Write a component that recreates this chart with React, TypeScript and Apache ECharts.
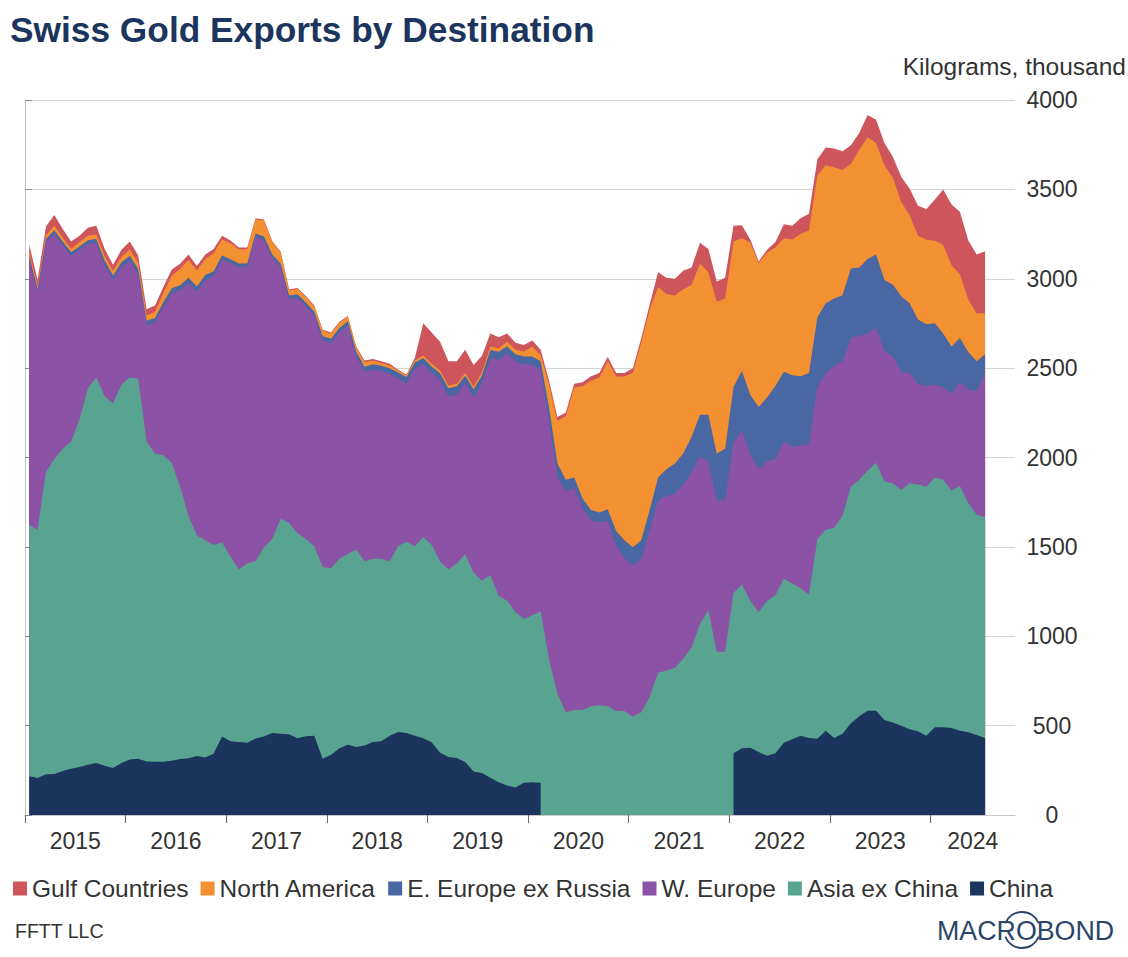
import React, { useEffect, useRef } from "react";
import * as echarts from "echarts";

// ---- Data (thousand kg), monthly Jan 2015 .. Jul 2024 ----
const START_YEAR = 2015;
const N_MONTHS = 115;
const months: string[] = [];
for (let i = 0; i < N_MONTHS; i++) {
  const y = START_YEAR + Math.floor(i / 12);
  const m = (i % 12) + 1;
  months.push(`${y}-${m < 10 ? "0" + m : m}`);
}

const years = ["2015", "2016", "2017", "2018", "2019", "2020", "2021", "2022", "2023", "2024"];
const yTicks = [0, 500, 1000, 1500, 2000, 2500, 3000, 3500, 4000];

const china: (number | null)[] = [
  217, 207, 228, 230, 246, 259, 269, 281, 291, 276,
  263, 291, 311, 315, 300, 298, 298, 304, 313, 317,
  330, 322, 343, 439, 413, 409, 404, 428, 439, 459,
  454, 452, 430, 441, 443, 315, 337, 374, 393, 380,
  389, 409, 413, 444, 465, 459, 444, 430, 407, 348,
  324, 319, 296, 244, 235, 209, 183, 165, 154, 181,
  183, 180,
  null, null, null, null, null, null, null, null, null, null, null,
  null, null, null, null, null, null, null, null, null, null, null,
  346, 374, 376, 352, 331, 346, 404, 424, 444, 431,
  426, 472, 431, 454, 513, 552, 583, 583, 531, 517,
  500, 480, 469, 443, 491, 491, 487, 472, 463, 448,
  431,
];

const asiaExChina: number[] = [
  1405, 1389, 1691, 1762, 1803, 1831, 1944, 2108, 2156, 2067,
  2041, 2117, 2136, 2126, 1790, 1725, 1714, 1667, 1523, 1357,
  1233, 1215, 1168, 1085, 1033, 964, 1003, 992, 1059, 1086,
  1205, 1181, 1146, 1103, 1060, 1073, 1044, 1059, 1066, 1105,
  1031, 1024, 1020, 976, 1040, 1070, 1059, 1125, 1104, 1072,
  1049, 1088, 1163, 1111, 1075, 1133, 1042, 1034, 980, 916,
  935, 959,
  870, 679, 575, 588, 588, 608, 614, 608, 582, 582, 549,
  575, 660, 796, 809, 822, 874, 939, 1069, 1147, 913, 913,
  897, 916, 823, 782, 868, 884, 917, 871, 825, 801,
  1118, 1124, 1176, 1220, 1323, 1323, 1344, 1388, 1336, 1339,
  1318, 1376, 1380, 1393, 1397, 1384, 1328, 1369, 1282, 1232,
  1236,
];

const wEurope: number[] = [
  1486, 1327, 1283, 1260, 1140, 1038, 947, 807, 750, 734,
  689, 659, 651, 584, 650, 732, 832, 946, 1098, 1302,
  1363, 1454, 1506, 1581, 1643, 1692, 1658, 1813, 1718, 1570,
  1405, 1253, 1317, 1303, 1287, 1266, 1258, 1266, 1278, 1081,
  1058, 1058, 1050, 1050, 936, 886, 994, 966, 963, 1012,
  970, 946, 959, 982, 1104, 1214, 1321, 1383, 1404, 1423,
  1402, 1352,
  1330, 1214, 1235, 1243, 1126, 1041, 1022, 1038, 924, 856, 845,
  858, 930, 962, 975, 975, 975, 975, 936, 832, 845, 850,
  840, 858, 819, 800, 780, 762, 769, 762, 801, 843,
  851, 877, 905, 864, 832, 806, 767, 754, 728, 708,
  660, 617, 564, 566, 520, 520, 541, 580, 637, 689,
  803,
];

const eEuropeExRussia: number[] = [
  20, 20, 20, 20, 20, 20, 20, 20, 25, 25,
  25, 25, 30, 30, 25, 25, 25, 30, 30, 30,
  30, 30, 25, 25, 20, 20, 20, 20, 20, 20,
  20, 20, 20, 20, 25, 25, 25, 25, 25, 25,
  30, 30, 30, 30, 35, 35, 35, 35, 35, 40,
  45, 45, 40, 45, 45, 45, 45, 40, 40, 45,
  45, 47,
  78, 73, 65, 57, 57, 57, 57, 65, 83, 99, 104,
  104, 116, 130, 150, 169, 174, 202, 234, 260, 265, 286,
  312, 338, 332, 349, 356, 408, 390, 403, 384, 398,
  390, 390, 377, 369, 390, 382, 416, 411, 398, 403,
  424, 390, 359, 344, 343, 299, 265, 247, 208, 169,
  107,
];

const northAmerica: number[] = [
  20, 15, 20, 25, 20, 20, 25, 25, 25, 25,
  25, 30, 35, 35, 30, 35, 50, 70, 90, 100,
  90, 90, 100, 90, 90, 80, 80, 80, 90, 70,
  60, 30, 30, 30, 30, 30, 30, 30, 25, 25,
  25, 20, 15, 15, 10, 10, 10, 15, 15, 15,
  15, 15, 15, 15, 15, 20, 20, 25, 25, 28,
  55, 35,
  127, 240, 357, 503, 628, 723, 755, 828, 864, 916, 976,
  1106, 1119, 1066, 981, 940, 918, 851, 845, 798, 848, 840,
  814, 740, 851, 804, 812, 775, 747, 759, 798, 797,
  793, 772, 735, 702, 585, 659, 681, 624, 642, 598,
  528, 494, 468, 472, 462, 496, 455, 357, 294, 268,
  232,
];

const gulfCountries: number[] = [
  45, 35, 50, 60, 50, 40, 35, 45, 50, 40,
  35, 40, 45, 40, 35, 35, 35, 35, 30, 30,
  25, 25, 25, 20, 15, 10, 10, 5, 5, 5,
  5, 5, 5, 5, 5, 5, 5, 5, 5, 5,
  10, 10, 10, 10, 5, 5, 16, 180, 175, 160,
  135, 125, 130, 120, 95, 73, 62, 47, 39, 37,
  35, 30,
  25, 20, 20, 22, 22, 25, 25, 25, 20, 20, 25,
  25, 30, 83, 91, 94, 104, 96, 117, 130, 114, 117,
  88, 73, 18, 10, 15, 30, 78, 78, 86, 94,
  91, 99, 104, 104, 104, 95, 125, 130, 125, 117,
  140, 148, 169, 172, 229, 310, 340, 350, 330, 330,
  345,
];

const seriesNames = [
  "Gulf Countries",
  "North America",
  "E. Europe ex Russia",
  "W. Europe",
  "Asia ex China",
  "China",
];
const seriesColors: Record<string, string> = {
  "Gulf Countries": "#cf555d",
  "North America": "#f39031",
  "E. Europe ex Russia": "#4867a3",
  "W. Europe": "#8b52a6",
  "Asia ex China": "#59a391",
  "China": "#1c355e",
};

const X_MAX = 118.07; // months from Jan 2015 to right edge of axis
const FONT = "'Liberation Sans', Arial, Helvetica, sans-serif";

export default function App() {
  const ref = useRef<HTMLDivElement>(null);

  useEffect(() => {
    if (!ref.current) return;
    const chart = echarts.init(ref.current, undefined, { renderer: "svg" });

    // Stack the layers (bottom to top): China, Asia ex China, W. Europe, E. Europe, N. America, Gulf.
    // Each layer is drawn from the baseline at its cumulative height, top layer first,
    // so the layers beneath paint over it (equivalent to a stacked area chart).
    const layersBottomUp: number[][] = [
      china.map((v) => v ?? 0),
      asiaExChina,
      wEurope,
      eEuropeExRussia,
      northAmerica,
      gulfCountries,
    ];
    const cum: number[][] = [];
    layersBottomUp.forEach((arr, k) => {
      cum.push(arr.map((v, i) => v + (k > 0 ? cum[k - 1][i] : 0)));
    });

    const xy = (arr: (number | null)[]) =>
      arr.map((v, i) => [i + 0.5, v == null ? null : v]);

    const areaSeries = (name: string, data: any[], z: number) => ({
      name,
      type: "line",
      data,
      color: seriesColors[name],
      symbol: "none",
      showSymbol: false,
      lineStyle: { width: 0 },
      areaStyle: { color: seriesColors[name], opacity: 1 },
      connectNulls: false,
      z,
      emphasis: { disabled: true },
    });

    const tickVals = years.map((_, i) => i * 12);
    const labelVals = years.map((_, i) => (i < years.length - 1 ? i * 12 + 6 : (i * 12 + X_MAX) / 2));

    chart.setOption({
      animation: false,
      textStyle: { fontFamily: FONT },
      title: {
        text: "Swiss Gold Exports by Destination",
        left: 10,
        top: 12,
        padding: 0,
        textStyle: { fontSize: 35.3, fontWeight: "bold", color: "#1c355e", fontFamily: FONT },
      },
      legend: {
        data: seriesNames,
        left: 13,
        top: 876,
        icon: "rect",
        itemWidth: 14,
        itemHeight: 14,
        itemGap: 12,
        padding: 0,
        textStyle: { fontSize: 24.5, color: "#333", fontFamily: FONT },
      },
      grid: { left: 25, right: 113, top: 100, bottom: 142, containLabel: false },
      xAxis: {
        type: "value",
        min: 0,
        max: X_MAX,
        axisLine: { show: true, lineStyle: { color: "#c8c8c8", width: 1 } },
        axisTick: {
          show: true,
          customValues: tickVals,
          length: 8,
          lineStyle: { color: "#666" },
        },
        axisLabel: {
          customValues: labelVals,
          formatter: (v: number) => years[Math.min(years.length - 1, Math.floor(v / 12))],
          fontSize: 23,
          color: "#333",
          margin: 14,
          fontFamily: FONT,
        },
        splitLine: { show: false },
      },
      yAxis: {
        type: "value",
        position: "right",
        min: 0,
        max: 4000,
        interval: 500,
        axisLine: { show: true, lineStyle: { color: "#c8c8c8" } },
        axisTick: { show: true, length: 7, lineStyle: { color: "#888" } },
        axisLabel: {
          fontSize: 23,
          color: "#333",
          align: "center",
          margin: 37,
          fontFamily: FONT,
          formatter: (v: number) => (yTicks.includes(v) ? String(v) : ""),
        },
        splitLine: { show: true, lineStyle: { color: "#d3d3d3", width: 1 } },
      },
      graphic: [
        {
          type: "text",
          right: 2,
          top: 54,
          style: { text: "Kilograms, thousand", fontSize: 24.5, fill: "#333", fontFamily: FONT },
        },
        {
          type: "text",
          left: 15,
          top: 921,
          style: { text: "FFTT LLC", fontSize: 19.5, fill: "#333", fontFamily: FONT },
        },
        {
          type: "text",
          left: 937,
          top: 917,
          style: { text: "MACROBOND", fontSize: 26.8, fill: "#2a4569", fontFamily: FONT },
        },
        {
          type: "arc",
          shape: { cx: 1022, cy: 930, r: 18, startAngle: Math.PI * 1.12, endAngle: Math.PI * 1.88 },
          style: { stroke: "#2a4569", lineWidth: 1.8, fill: "none" },
        },
        {
          type: "arc",
          shape: { cx: 1022, cy: 930, r: 18, startAngle: Math.PI * 0.12, endAngle: Math.PI * 0.88 },
          style: { stroke: "#2a4569", lineWidth: 1.8, fill: "none" },
        },
      ],
      series: [
        areaSeries("Gulf Countries", xy(cum[5]), 2),
        areaSeries("North America", xy(cum[4]), 3),
        areaSeries("E. Europe ex Russia", xy(cum[3]), 4),
        areaSeries("W. Europe", xy(cum[2]), 5),
        areaSeries("Asia ex China", xy(cum[1]), 6),
        areaSeries("China", xy(china), 7),
      ],
    });

    return () => chart.dispose();
  }, []);

  return (
    <div
      ref={ref}
      style={{ position: "fixed", left: 0, top: 0, width: 1128, height: 957, background: "#fff" }}
    />
  );
}
